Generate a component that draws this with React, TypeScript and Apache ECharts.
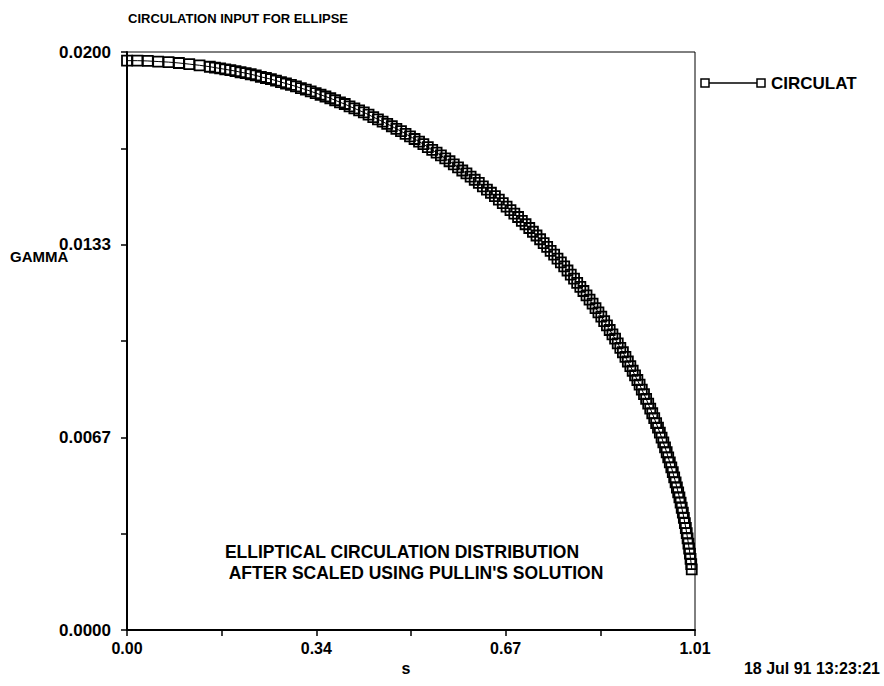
import React, { useEffect, useRef } from "react";
import * as echarts from "echarts";

const sValues = [
  0.0, 0.0185, 0.037, 0.0554, 0.0739, 0.0923, 0.1107, 0.129,
  0.1473, 0.1564, 0.1656, 0.1747, 0.1838, 0.1929, 0.2019, 0.211, 0.22, 0.229,
  0.238, 0.247, 0.2559, 0.2649, 0.2738, 0.2827, 0.2915, 0.3004, 0.3092, 0.318,
  0.3267, 0.3355, 0.3442, 0.3529, 0.3615, 0.3701, 0.3787, 0.3872, 0.3957, 0.4043,
  0.4127, 0.4211, 0.4295, 0.4379, 0.4462, 0.4545, 0.4627, 0.4709, 0.479, 0.4872,
  0.4953, 0.5032, 0.5113, 0.5193, 0.527, 0.5349, 0.5427, 0.5505, 0.5582, 0.5659,
  0.5735, 0.5811, 0.5886, 0.5962, 0.6036, 0.611, 0.6183, 0.6256, 0.6328, 0.64,
  0.6471, 0.6542, 0.6612, 0.6682, 0.675, 0.6819, 0.6887, 0.6954, 0.7021, 0.7087,
  0.7153, 0.7218, 0.7282, 0.7346, 0.7409, 0.7471, 0.7533, 0.7595, 0.7655, 0.7715,
  0.7774, 0.7833, 0.7891, 0.7949, 0.8005, 0.8061, 0.8116, 0.8171, 0.8225, 0.8279,
  0.8331, 0.8383, 0.8434, 0.8485, 0.8534, 0.8583, 0.8632, 0.8679, 0.8726, 0.8772,
  0.8818, 0.8863, 0.8906, 0.895, 0.8992, 0.9034, 0.9075, 0.9115, 0.9154, 0.9193,
  0.9231, 0.9268, 0.9304, 0.934, 0.9375, 0.9409, 0.9442, 0.9475, 0.9506, 0.9537,
  0.9567, 0.9596, 0.9624, 0.9652, 0.9679, 0.9705, 0.973, 0.9755, 0.9778, 0.9801,
  0.9823, 0.9844, 0.9864, 0.9884, 0.9902, 0.992, 0.9937, 0.9953, 0.9968, 0.9983,
  0.9996, 1.001, 1.0021, 1.0033, 1.0042,
];

const gammaValues = [
  0.0197, 0.0197, 0.01969, 0.01967, 0.01965, 0.01962, 0.01958, 0.01954,
  0.01949, 0.01946, 0.01943, 0.0194, 0.01937, 0.01934, 0.0193, 0.01927, 0.01923, 0.01919,
  0.01914, 0.0191, 0.01906, 0.01901, 0.01896, 0.01891, 0.01886, 0.01881, 0.01875, 0.0187,
  0.01864, 0.01858, 0.01852, 0.01846, 0.0184, 0.01833, 0.01826, 0.0182, 0.01812, 0.01805,
  0.01798, 0.01791, 0.01783, 0.01775, 0.01767, 0.01759, 0.01751, 0.01743, 0.01734, 0.01726,
  0.01717, 0.01708, 0.01699, 0.0169, 0.01681, 0.01671, 0.01661, 0.01652, 0.01642, 0.01632,
  0.01622, 0.01611, 0.01601, 0.0159, 0.0158, 0.01569, 0.01558, 0.01547, 0.01535, 0.01524,
  0.01513, 0.01501, 0.01489, 0.01477, 0.01465, 0.01453, 0.01441, 0.01429, 0.01416, 0.01404,
  0.01391, 0.01378, 0.01365, 0.01352, 0.01339, 0.01326, 0.01312, 0.01299, 0.01285, 0.01272,
  0.01258, 0.01244, 0.0123, 0.01216, 0.01201, 0.01187, 0.01173, 0.01158, 0.01143, 0.01129,
  0.01114, 0.01099, 0.01084, 0.01069, 0.01054, 0.01038, 0.01023, 0.01008, 0.00992, 0.00976,
  0.00961, 0.00945, 0.00929, 0.00913, 0.00897, 0.00881, 0.00865, 0.00849, 0.00832, 0.00816,
  0.008, 0.00783, 0.00766, 0.0075, 0.00733, 0.00716, 0.007, 0.00683, 0.00666, 0.00649,
  0.00632, 0.00615, 0.00597, 0.0058, 0.00563, 0.00546, 0.00528, 0.00511, 0.00493, 0.00476,
  0.00459, 0.00441, 0.00423, 0.00406, 0.00388, 0.0037, 0.00353, 0.00335, 0.00317, 0.00299,
  0.00282, 0.00264, 0.00246, 0.00228, 0.0021,
];

const xMin = 0;
const xMax = 1.01;
const xDivisions = 6;
const yMin = 0;
const yMax = 0.02;
const yDivisions = 6;

const titleText = "CIRCULATION INPUT FOR ELLIPSE";
const yAxisTitle = "GAMMA";
const xAxisTitle = "s";
const seriesName = "CIRCULAT";
const noteLines = [
  "ELLIPTICAL CIRCULATION DISTRIBUTION",
  "AFTER SCALED USING PULLIN'S SOLUTION",
];
const stampText = "18 Jul 91 13:23:21";

const FONT = "'Liberation Sans', Arial, Helvetica, sans-serif";

export default function App() {
  const ref = useRef<HTMLDivElement>(null);

  useEffect(() => {
    if (!ref.current) return;
    const chart = echarts.init(ref.current, null, { renderer: "svg" });
    const xInterval = (xMax - xMin) / xDivisions;
    const yInterval = (yMax - yMin) / yDivisions;
    const data = sValues.map((s, i) => [s, gammaValues[i]]);

    const textStyle = { fontFamily: FONT, fill: "#000", fontWeight: "bold" as const };

    chart.setOption({
      animation: false,
      backgroundColor: "#fff",
      grid: {
        left: 127,
        right: 189,
        top: 52,
        bottom: 56,
        show: true,
        borderColor: "#000",
        borderWidth: 1,
        backgroundColor: "transparent",
      },
      xAxis: {
        type: "value",
        min: xMin,
        max: xMax,
        interval: xInterval,
        axisLine: { show: true, onZero: false, lineStyle: { color: "#000", width: 2 } },
        axisTick: { show: true, inside: false, length: 6, lineStyle: { color: "#000", width: 1.5 } },
        splitLine: { show: false },
        axisLabel: {
          color: "#000",
          fontFamily: FONT,
          fontWeight: "bold",
          fontSize: 16,
          margin: 10,
          formatter: (v: number) => {
            const idx = Math.round((v - xMin) / xInterval);
            return idx % 2 === 0 ? v.toFixed(2) : "";
          },
        },
      },
      yAxis: {
        type: "value",
        min: yMin,
        max: yMax,
        interval: yInterval,
        axisLine: { show: true, onZero: false, lineStyle: { color: "#000", width: 2 } },
        axisTick: { show: true, inside: false, length: 6, lineStyle: { color: "#000", width: 1.5 } },
        splitLine: { show: false },
        axisLabel: {
          color: "#000",
          fontFamily: FONT,
          fontWeight: "bold",
          fontSize: 17,
          margin: 16,
          formatter: (v: number) => {
            const idx = Math.round((v - yMin) / yInterval);
            return idx % 2 === 0 ? v.toFixed(4) : "";
          },
        },
      },
      series: [
        {
          name: seriesName,
          type: "line",
          data,
          symbol: "rect",
          symbolSize: 10,
          showAllSymbol: true,
          clip: false,
          itemStyle: { color: "transparent", borderColor: "#000", borderWidth: 1.8 },
          lineStyle: { color: "#000", width: 1 },
          emphasis: { disabled: true },
        },
      ],
      graphic: [
        {
          type: "text",
          x: 128,
          y: 18,
          style: { ...textStyle, fontSize: 13, text: titleText, verticalAlign: "middle" },
        },
        {
          type: "text",
          x: 10,
          y: 256,
          style: { ...textStyle, fontSize: 15, text: yAxisTitle, verticalAlign: "middle" },
        },
        {
          type: "text",
          x: 406,
          y: 668,
          style: { ...textStyle, fontSize: 16, text: xAxisTitle, align: "center", verticalAlign: "middle" },
        },
        {
          type: "text",
          x: 880,
          y: 668,
          style: { ...textStyle, fontSize: 16, text: stampText, align: "right", verticalAlign: "middle" },
        },
        {
          type: "text",
          x: 402,
          y: 552,
          style: { ...textStyle, fontSize: 17.5, text: noteLines[0], align: "center", verticalAlign: "middle" },
        },
        {
          type: "text",
          x: 416,
          y: 573,
          style: { ...textStyle, fontSize: 17.5, text: noteLines[1], align: "center", verticalAlign: "middle" },
        },
        {
          type: "line",
          shape: { x1: 705, y1: 83, x2: 761, y2: 83 },
          style: { stroke: "#000", lineWidth: 1.5 },
        },
        {
          type: "rect",
          shape: { x: 701, y: 79, width: 8, height: 8 },
          style: { fill: "#fff", stroke: "#000", lineWidth: 1.5 },
        },
        {
          type: "rect",
          shape: { x: 757, y: 79, width: 8, height: 8 },
          style: { fill: "#fff", stroke: "#000", lineWidth: 1.5 },
        },
        {
          type: "text",
          x: 771,
          y: 83,
          style: { ...textStyle, fontSize: 17, text: seriesName, verticalAlign: "middle" },
        },
      ],
    });

    return () => chart.dispose();
  }, []);

  return (
    <div
      ref={ref}
      style={{ position: "fixed", left: 0, top: 0, width: 884, height: 686, background: "#fff" }}
    />
  );
}
